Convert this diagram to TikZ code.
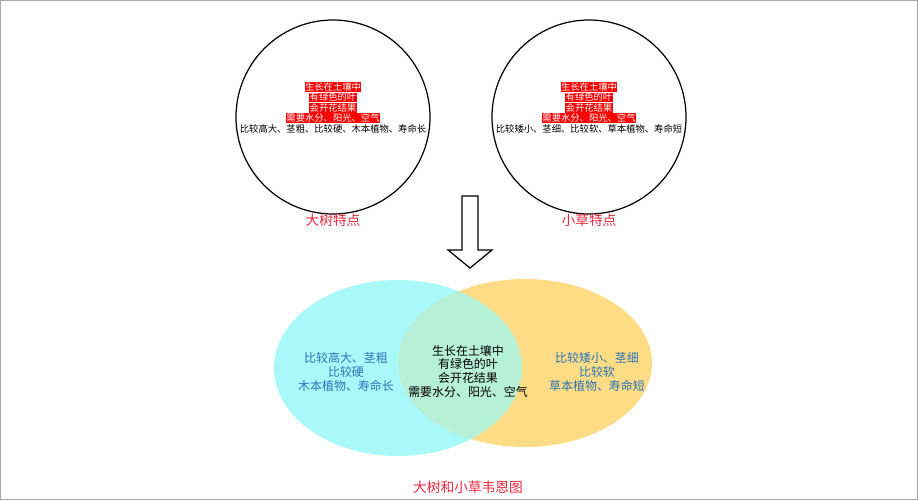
\documentclass[tikz,border=0pt]{standalone}
\usepackage{fontspec}
\newfontfamily\cjk{Noto Sans CJK SC}
\usetikzlibrary{positioning}
\definecolor{treeblue}{HTML}{A9F9FB}
\definecolor{grassorange}{HTML}{FDDC85}
\definecolor{overlapgreen}{HTML}{B6F0D6}
\definecolor{textblue}{HTML}{2E75B6}
\definecolor{titlered}{HTML}{E8283C}
\tikzset{
  mark line/.style={fill=red, text=white, inner sep=0.3pt, font=\cjk\fontsize{5.3}{6}\selectfont},
  plain line/.style={inner sep=0.3pt, font=\cjk\fontsize{5.3}{6}\selectfont},
  title/.style={text=titlered, font=\cjk\fontsize{7.8}{9}\selectfont},
  venn text/.style={align=center, font=\cjk\fontsize{6.8}{7.8}\selectfont}
}
\begin{document}
\begin{tikzpicture}[x=0.02cm, y=-0.02cm]
    % frame
  \useasboundingbox (0,0) rectangle (918,500);
  \draw[gray!70, line width=0.8pt] (0.5,0.5) rectangle (917.5,499.5);

    % the two circles
  \node[circle, draw, line width=0.7pt, minimum size=194*0.02cm] (tree) at (333,117) {};
  \node[circle, draw, line width=0.7pt, minimum size=194*0.02cm] (grass) at (589,117) {};

  \node[mark line] (t1) at (333,87) {生长在土壤中};
  \node[mark line, below=0pt of t1] (t2) {有绿色的叶};
  \node[mark line, below=0pt of t2] (t3) {会开花结果};
  \node[mark line, below=0pt of t3] (t4) {需要水分、阳光、空气};
  \node[plain line, below=0pt of t4] (t5) {比较高大、茎粗、比较硬、木本植物、寿命长};

  \node[mark line] (g1) at (589,87) {生长在土壤中};
  \node[mark line, below=0pt of g1] (g2) {有绿色的叶};
  \node[mark line, below=0pt of g2] (g3) {会开花结果};
  \node[mark line, below=0pt of g3] (g4) {需要水分、阳光、空气};
  \node[plain line, below=0pt of g4] (g5) {比较矮小、茎细、比较软、草本植物、寿命短};

  \node[title] (treetitle) at (333,220) {大树特点};
  \node[title] (grasstitle) at (589,220) {小草特点};

    % hollow arrow
  \draw[line width=0.7pt, fill=white] (462,196) -- (478,196) -- (478,250) -- (492,250)
     -- (470,268) -- (448,250) -- (462,250) -- cycle;

    % venn
  \fill[treeblue] (398,368) ellipse [x radius=124, y radius=88];
  \fill[grassorange] (525,363) ellipse [x radius=127, y radius=84];
  \begin{scope}
    \clip (398,368) ellipse [x radius=124, y radius=88];
    \fill[overlapgreen] (525,363) ellipse [x radius=127, y radius=84];
  \end{scope}

  \node[venn text, text=textblue] (treeonly) at (346,372) {比较高大、茎粗\\比较硬\\木本植物、寿命长};
  \node[venn text] (both) at (468,371) {生长在土壤中\\有绿色的叶\\会开花结果\\需要水分、阳光、空气};
  \node[venn text, text=textblue] (grassonly) at (597,372) {比较矮小、茎细\\比较软\\草本植物、寿命短};

  \node[title] (venntitle) at (468,487) {大树和小草韦恩图};
\end{tikzpicture}
\end{document}
